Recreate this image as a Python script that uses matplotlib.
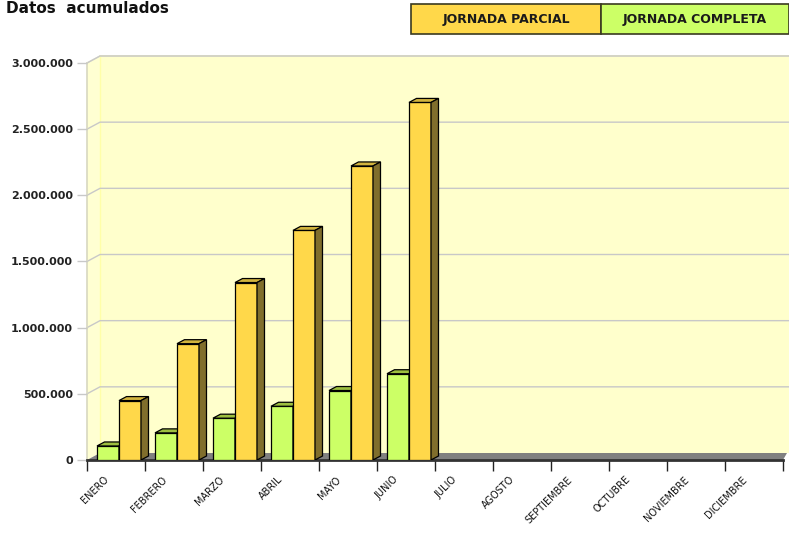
import matplotlib
matplotlib.use("Agg")
import matplotlib.pyplot as plt
from matplotlib.patches import Polygon, Rectangle
import numpy as np

# ---- data ----
months = ["ENERO", "FEBRERO", "MARZO", "ABRIL", "MAYO", "JUNIO", "JULIO",
          "AGOSTO", "SEPTIEMBRE", "OCTUBRE", "NOVIEMBRE", "DICIEMBRE"]
jornada_completa = [106000, 205000, 316000, 406000, 525000, 652000]
jornada_parcial = [449000, 879000, 1341000, 1735000, 2222000, 2702000]
yticks = [0, 500000, 1000000, 1500000, 2000000, 2500000, 3000000]
ytick_labels = ["0", "500.000", "1.000.000", "1.500.000", "2.000.000", "2.500.000", "3.000.000"]
series_labels = ["JORNADA PARCIAL", "JORNADA COMPLETA"]
title = "Datos  acumulados"

# ---- style ----
C_YEL = "#FFD84A"
C_YEL_TOP = "#D2B43E"
C_YEL_SIDE = "#806E2C"
C_GRN = "#CCFF66"
C_GRN_TOP = "#9DBF3F"
C_WALL = "#FFFFCC"
C_GRID = "#C8C8C8"

W, H = 789, 537
fig = plt.figure(figsize=(W / 100, H / 100), dpi=100)
X0, X1, Y0, Y1 = 87, 783, 460, 63  # pixel frame of the front plane
ax = fig.add_axes([X0 / W, (H - Y0) / H, (X1 - X0) / W, (Y0 - Y1) / H])
ax.set_xlim(0, 12)
ax.set_ylim(0, 3000000)
ax.set_facecolor("none")

px = 12 / (X1 - X0)          # data units per pixel (x)
py = 3000000 / (Y0 - Y1)     # data units per pixel (y)
WDX, WDY = 13 * px, 7 * py   # wall depth
BDX, BDY = 7.5 * px, 4 * py  # bar depth
BW = 22 * px                 # bar width
BOFF = 10 * px               # offset of first bar inside a month slot
XR = 12 + 20 * px

# back wall
ax.add_patch(Polygon([(WDX, WDY), (XR, WDY), (XR, 3000000 + WDY), (WDX, 3000000 + WDY)],
                     closed=True, facecolor=C_WALL, edgecolor="none", zorder=0, clip_on=False))
ax.plot([WDX, XR], [3000000 + WDY] * 2, color="#EEEEB8", lw=1.2, zorder=0.5, clip_on=False)
# left wall
ax.add_patch(Polygon([(0, 0), (WDX, WDY), (WDX, 3000000 + WDY), (0, 3000000)],
                     closed=True, facecolor="#FFFFD2", edgecolor="none", zorder=0.2, clip_on=False))
ax.plot([WDX, WDX], [WDY, 3000000 + WDY], color="#FFFFA8", lw=1, zorder=0.6, clip_on=False)
ax.plot([0, WDX], [3000000, 3000000 + WDY], color="#E8E8C8", lw=1, zorder=0.6, clip_on=False)

# gridlines
for v in yticks[1:]:
    ax.plot([0, WDX, XR], [v, v + WDY, v + WDY], color=C_GRID, lw=1, zorder=0.7, clip_on=False)

# floor
ax.add_patch(Polygon([(0, 0), (12, 0), (12 + 4 * px, WDY), (WDX, WDY)],
                     closed=True, facecolor="#808080", edgecolor="none", zorder=1, clip_on=False))

# bars
def bar3d(x, v, front, top, side):
    ax.bar([x], [v], width=BW, align="edge", color=front, edgecolor="black", linewidth=0.9, zorder=3)
    ax.add_patch(Polygon([(x, v), (x + BDX, v + BDY), (x + BW + BDX, v + BDY), (x + BW, v)],
                         closed=True, facecolor=top, edgecolor="black", linewidth=0.9, zorder=3))
    ax.add_patch(Polygon([(x + BW, 0), (x + BW + BDX, BDY), (x + BW + BDX, v + BDY), (x + BW, v)],
                         closed=True, facecolor=side, edgecolor="black", linewidth=0.9, zorder=3))

for i, (g, y) in enumerate(zip(jornada_completa, jornada_parcial)):
    xg = i + BOFF
    bar3d(xg, g, C_GRN, C_GRN_TOP, C_GRN_TOP)
    bar3d(xg + BW, y, C_YEL, C_YEL_TOP, C_YEL_SIDE)

# axes styling
for s in ["top", "right", "bottom"]:
    ax.spines[s].set_visible(False)
ax.spines["left"].set_color("#D8D8C0")
ax.spines["left"].set_linewidth(1.2)
ax.spines["left"].set_zorder(0.8)
ax.plot([0, 12], [0, 0], color="#333333", lw=2, zorder=2, clip_on=False)

ax.set_yticks(yticks)
ax.set_yticklabels(ytick_labels, fontsize=8, fontweight="bold", color="#222222")
ax.tick_params(axis="y", length=7, width=1, color="#C8C8C8", pad=3)

ax.set_xticks(np.arange(13))
ax.set_xticklabels([""] * 13)
ax.tick_params(axis="x", which="major", length=8, width=1, color="#222222", direction="out")
ax.set_xticks(np.arange(12) + 0.5 - 9 * px, minor=True)
ax.set_xticklabels(months, minor=True, fontsize=7, rotation=45, ha="right",
                   rotation_mode="anchor", va="center", color="#111111")
ax.tick_params(axis="x", which="minor", length=0, pad=13)

# title
fig.text(6 / W, 1 - 13 / H, title, fontsize=11, fontweight="bold", color="#111111",
         va="baseline", ha="left")

# legend boxes
lx0, lmid, lx1, ly0, ly1 = 411, 601, 789, 4, 34
fig.patches.append(Rectangle((lx0 / W, 1 - ly1 / H), (lmid - lx0) / W, (ly1 - ly0) / H,
                             transform=fig.transFigure, facecolor=C_YEL, edgecolor="#3A3A20", lw=1.2))
fig.patches.append(Rectangle((lmid / W, 1 - ly1 / H), (lx1 - lmid) / W, (ly1 - ly0) / H,
                             transform=fig.transFigure, facecolor=C_GRN, edgecolor="#3A3A20", lw=1.2))
fig.text((lx0 + lmid) / 2 / W, 1 - 19.5 / H, series_labels[0], fontsize=9, fontweight="bold",
         ha="center", va="center", color="#1a1a1a")
fig.text((lmid + lx1) / 2 / W, 1 - 19.5 / H, series_labels[1], fontsize=9, fontweight="bold",
         ha="center", va="center", color="#1a1a1a")

fig.savefig("out.png", dpi=100, facecolor="white")
